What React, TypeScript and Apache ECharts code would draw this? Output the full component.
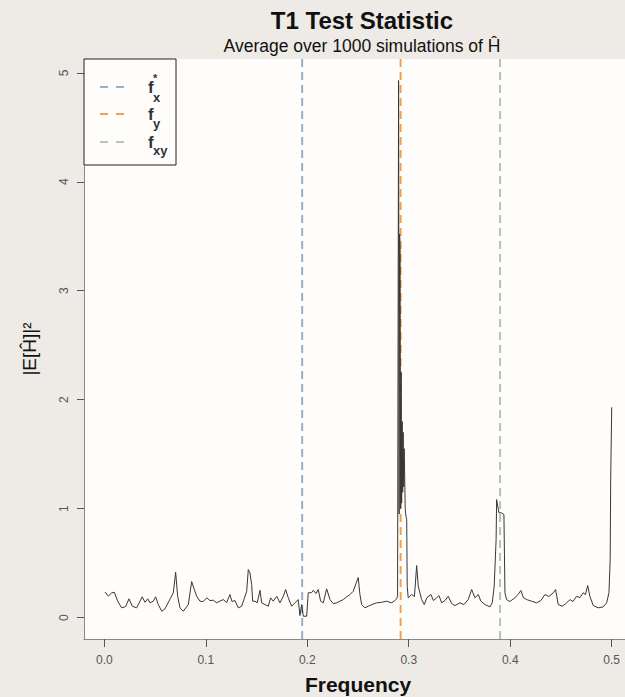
import React, { useEffect, useRef } from "react";
import * as echarts from "echarts";

// Frequencies and average |E[H^]|^2 values
const freq = [
  0.0007, 0.0039, 0.0073, 0.0099, 0.0132, 0.0171, 0.0211, 0.0243, 0.0276, 0.0319,
  0.0352, 0.0374, 0.0401, 0.0428, 0.045, 0.0483, 0.0506, 0.0532, 0.0566, 0.0598,
  0.0637, 0.068, 0.0703, 0.0723, 0.0746, 0.0778, 0.0828, 0.0861, 0.0887, 0.091,
  0.0943, 0.0975, 0.1009, 0.1041, 0.1074, 0.1107, 0.114, 0.1172, 0.1206, 0.1238,
  0.1258, 0.1288, 0.132, 0.1354, 0.1376, 0.1403, 0.1419, 0.1435, 0.1452, 0.1462,
  0.1485, 0.1507, 0.1534, 0.1551, 0.1583, 0.1616, 0.1639, 0.1665, 0.1699, 0.1731,
  0.1764, 0.1787, 0.1813, 0.1846, 0.1879, 0.1911, 0.1928, 0.1945, 0.1961, 0.1994,
  0.201, 0.2043, 0.2059, 0.2086, 0.2108, 0.2132, 0.2158, 0.2191, 0.2224, 0.2256,
  0.229, 0.2322, 0.2355, 0.2388, 0.2421, 0.2453, 0.248, 0.2502, 0.2519, 0.2536,
  0.2568, 0.2601, 0.2637, 0.2684, 0.2733, 0.2782, 0.2832, 0.2864, 0.2881,
  0.289, 0.2895, 0.29, 0.2905, 0.291, 0.2915, 0.292, 0.2925, 0.293, 0.2935,
  0.294, 0.2945, 0.295, 0.2955, 0.296, 0.2965, 0.297, 0.2975, 0.298,
  0.2985, 0.2995, 0.3029, 0.3056, 0.3078, 0.3094, 0.3127, 0.3153, 0.3179, 0.3219,
  0.3243, 0.3275, 0.3298, 0.3324, 0.3357, 0.3389, 0.3423, 0.3455, 0.3505, 0.3544,
  0.3586, 0.362, 0.3652, 0.3685, 0.3711, 0.3751, 0.38, 0.3823, 0.3842, 0.3861,
  0.3866, 0.3889, 0.3915, 0.3938, 0.3948, 0.3964, 0.3997, 0.4046, 0.4076, 0.4105,
  0.413, 0.4162, 0.4211, 0.426, 0.4302, 0.4342, 0.4381, 0.4424, 0.4447, 0.4473,
  0.4512, 0.4549, 0.4588, 0.4618, 0.4654, 0.4687, 0.4719, 0.4741, 0.4763, 0.4785,
  0.4818, 0.4867, 0.4916, 0.495, 0.4973, 0.4985, 0.499, 0.5,
];
const power = [
  0.234, 0.197, 0.227, 0.232, 0.15, 0.089, 0.101, 0.172, 0.104, 0.089,
  0.15, 0.19, 0.14, 0.172, 0.135, 0.15, 0.19, 0.119, 0.058, 0.08,
  0.15, 0.227, 0.416, 0.195, 0.089, 0.058, 0.119, 0.33, 0.257, 0.195,
  0.15, 0.147, 0.181, 0.156, 0.159, 0.135, 0.151, 0.165, 0.138, 0.211,
  0.147, 0.156, 0.089, 0.104, 0.165, 0.241, 0.44, 0.41, 0.303, 0.15,
  0.15, 0.135, 0.25, 0.135, 0.119, 0.104, 0.181, 0.15, 0.195, 0.135,
  0.195, 0.257, 0.181, 0.104, 0.135, 0.165, 0.018, 0.119, 0.012, 0.012,
  0.227, 0.229, 0.25, 0.22, 0.257, 0.15, 0.135, 0.263, 0.165, 0.128,
  0.135, 0.15, 0.165, 0.19, 0.211, 0.241, 0.312, 0.367, 0.211, 0.119,
  0.089, 0.104, 0.119, 0.135, 0.14, 0.15, 0.135, 0.156, 0.172,
  0.2, 2.62, 4.93, 0.95, 3.52, 3.38, 1.0, 2.25, 1.05, 1.8,
  1.15, 1.7, 1.2, 1.55, 1.3, 1.0, 0.95, 0.92, 0.9,
  0.287, 0.181, 0.211, 0.193, 0.477, 0.287, 0.165, 0.119, 0.183, 0.211,
  0.156, 0.181, 0.202, 0.135, 0.156, 0.195, 0.128, 0.11, 0.135, 0.119,
  0.165, 0.257, 0.181, 0.211, 0.15, 0.119, 0.098, 0.135, 0.287, 0.716,
  1.083, 0.961, 0.961, 0.945, 0.227, 0.165, 0.147, 0.181, 0.211, 0.248,
  0.183, 0.165, 0.15, 0.135, 0.156, 0.211, 0.193, 0.227, 0.257, 0.119,
  0.104, 0.128, 0.165, 0.147, 0.195, 0.183, 0.227, 0.211, 0.294, 0.195,
  0.11, 0.089, 0.098, 0.135, 0.227, 0.532, 1.27, 1.93,
];

// Reference frequencies (vertical dashed lines)
const refNames = ["fx*", "fy", "fxy"];
const refFreqs = [0.195, 0.292, 0.39];
const refColors = ["#97b0c9", "#f2a04e", "#b5c5ac"];

// Axes
const xTicks = [0, 0.1, 0.2, 0.3, 0.4, 0.5];
const yTicks = [0, 1, 2, 3, 4, 5];
const xMin = -0.02;
const xMax = 0.52;
const yMin = -0.197;
const yMax = 5.127;

const FONT = "'Liberation Sans', Arial, sans-serif";

export default function App() {
  const ref = useRef<HTMLDivElement>(null);

  useEffect(() => {
    if (!ref.current) return;
    const chart = echarts.init(ref.current, undefined, { renderer: "svg" });

    const lineData = freq.map((f, i) => [f, power[i]]);

    const refSeries = refFreqs.map((f, i) => ({
      type: "line",
      name: refNames[i],
      data: [
        [f, yMin],
        [f, yMax],
      ],
      symbol: "none",
      silent: true,
      lineStyle: { color: refColors[i], width: 2, type: [8, 5] },
      z: 3,
    }));

    const legendRows = [87, 114, 142];
    const legendGraphics: any[] = [
      {
        type: "rect",
        shape: { x: 84, y: 59, width: 92, height: 106 },
        style: { fill: "#fefdfb", stroke: "#222", lineWidth: 1 },
        z: 10,
      },
    ];
    legendRows.forEach((y, i) => {
      legendGraphics.push({
        type: "line",
        shape: { x1: 100, y1: y, x2: 125, y2: y },
        style: { stroke: refColors[i], lineWidth: 2, lineDash: [8, 8] },
        z: 11,
      });
      legendGraphics.push({
        type: "text",
        x: 148,
        y: y,
        style: {
          text: "f",
          font: `bold 17px ${FONT}`,
          fill: "#333",
          textVerticalAlign: "middle",
        },
        z: 11,
      });
    });
    legendGraphics.push(
      { type: "text", x: 153, y: 78, style: { text: "*", font: `bold 11px ${FONT}`, fill: "#333", textVerticalAlign: "middle" }, z: 11 },
      { type: "text", x: 153, y: 97, style: { text: "x", font: `bold 13px ${FONT}`, fill: "#333", textVerticalAlign: "middle" }, z: 11 },
      { type: "text", x: 153, y: 123, style: { text: "y", font: `bold 13px ${FONT}`, fill: "#333", textVerticalAlign: "middle" }, z: 11 },
      { type: "text", x: 153, y: 150, style: { text: "xy", font: `bold 13px ${FONT}`, fill: "#333", textVerticalAlign: "middle" }, z: 11 }
    );

    chart.setOption({
      animation: false,
      backgroundColor: "#eeebe6",
      textStyle: { fontFamily: FONT },
      title: [
        {
          text: "T1 Test Statistic",
          left: 357,
          top: 3,
          textAlign: "center",
          textStyle: { fontSize: 24, fontWeight: "bold", color: "#111", fontFamily: FONT },
        },
        {
          text: "Average over 1000 simulations of Ĥ",
          left: 357,
          top: 32,
          textAlign: "center",
          textStyle: { fontSize: 17.5, fontWeight: "normal", color: "#111", fontFamily: FONT },
        },
      ],
      grid: {
        left: 84,
        top: 59,
        width: 548,
        height: 580,
        show: true,
        backgroundColor: "#fefdfb",
        borderWidth: 0,
        outerBoundsMode: "none",
        containLabel: false,
      },
      xAxis: {
        type: "value",
        min: xMin,
        max: xMax,
        name: "Frequency",
        nameLocation: "middle",
        nameGap: 35,
        nameTextStyle: { fontSize: 21, fontWeight: "bold", color: "#111", fontFamily: FONT },
        axisLine: { show: true, onZero: false, lineStyle: { color: "#888", width: 1 } },
        axisTick: { show: true, length: 8, customValues: xTicks, lineStyle: { color: "#555" } },
        axisLabel: {
          customValues: xTicks,
          formatter: (v: number) => v.toFixed(1),
          fontSize: 12,
          color: "#555",
          margin: 15,
          fontFamily: FONT,
        },
        splitLine: { show: false },
      },
      yAxis: {
        type: "value",
        min: yMin,
        max: yMax,
        name: "|E[Ĥ]|²",
        nameLocation: "middle",
        nameRotate: 90,
        nameGap: 45,
        nameTextStyle: { fontSize: 19, color: "#111", fontFamily: FONT },
        axisLine: { show: true, onZero: false, lineStyle: { color: "#888", width: 1 } },
        axisTick: { show: true, length: 7, customValues: yTicks, lineStyle: { color: "#555" } },
        axisLabel: {
          customValues: yTicks,
          rotate: 90,
          fontSize: 12,
          color: "#555",
          margin: 14,
          fontFamily: FONT,
        },
        splitLine: { show: false },
      },
      series: [
        {
          type: "line",
          name: "T1",
          data: lineData,
          symbol: "none",
          lineStyle: { color: "#3a3632", width: 1 },
          z: 4,
        },
        ...refSeries,
      ],
      graphic: legendGraphics,
    });

    return () => chart.dispose();
  }, []);

  return (
    <div
      ref={ref}
      style={{ position: "fixed", left: 0, top: 0, width: 640, height: 697 }}
    />
  );
}
